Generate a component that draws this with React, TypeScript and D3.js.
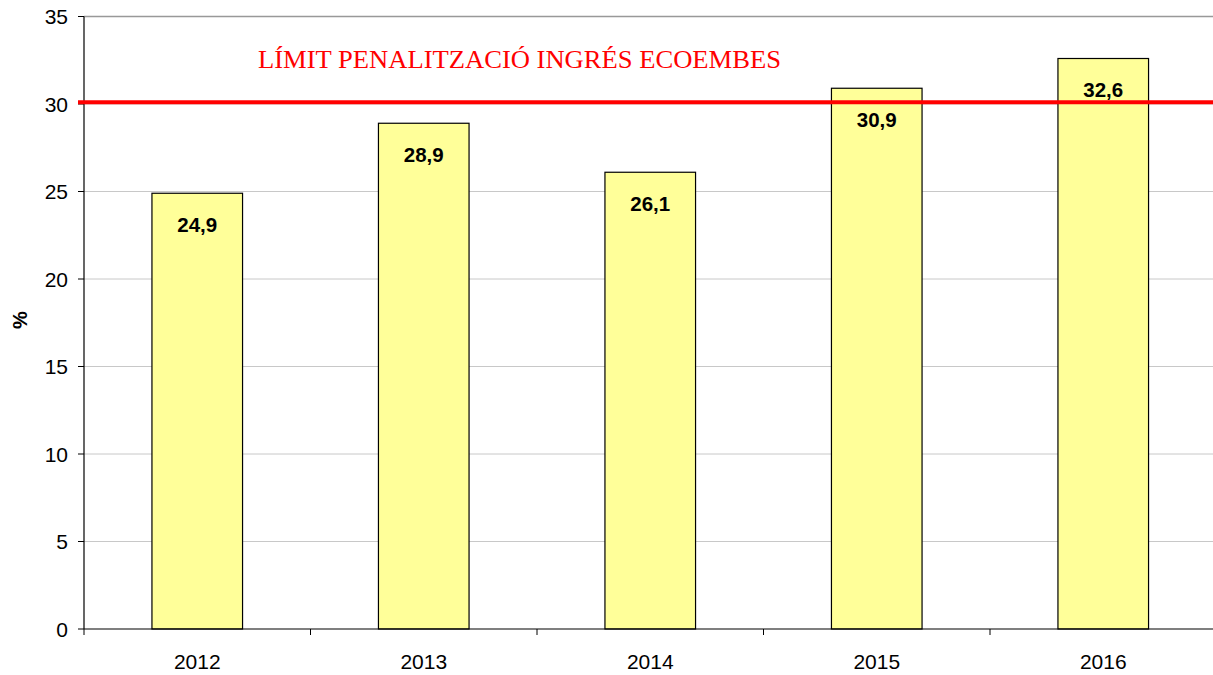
import React from "react";
import * as d3 from "d3";

const categories = ["2012", "2013", "2014", "2015", "2016"];
const values = [24.9, 28.9, 26.1, 30.9, 32.6];
const labels = ["24,9", "28,9", "26,1", "30,9", "32,6"];
const yTicks = [0, 5, 10, 15, 20, 25, 30, 35];
const limitValue = 30.1;
const limitLabel = "LÍMIT PENALITZACIÓ INGRÉS ECOEMBES";

export default function App() {
  const W = 1213, H = 675;
  const left = 84, right = 1216.5, top = 16.5, bottom = 629;
  const x = d3.scaleBand<string>().domain(categories).range([left, right]).paddingInner(0.6).paddingOuter(0.3);
  const xb = d3.scaleBand<string>().domain(categories).range([left, right]);
  const y = d3.scaleLinear().domain([0, 35]).range([bottom, top]);
  const font = "Arial, 'Liberation Sans', sans-serif";
  return (
    <svg width={W} height={H} style={{ position: "absolute", left: 0, top: 0, background: "#fff" }}>
      {yTicks.map(t => (
        <g key={t}>
          {t > 0 && (
            <line x1={left} x2={W} y1={y(t)} y2={y(t)} stroke={t === 35 ? "#999" : "#c8c8c8"} strokeWidth={t === 35 ? 1.5 : 1} />
          )}
          <line x1={left - 6} x2={left} y1={y(t)} y2={y(t)} stroke="#000" />
          <text x={68} y={y(t)} textAnchor="end" dominantBaseline="central" fontFamily={font} fontSize={21}>{t}</text>
        </g>
      ))}
      {categories.map((c, i) => {
        const bx = x(c)!;
        const bw = x.bandwidth();
        const by = y(values[i]);
        return (
          <g key={c}>
            <rect x={bx} y={by} width={bw} height={bottom - by} fill="#ffff99" stroke="#000" strokeWidth={1.2} />
            <text x={bx + bw / 2} y={by + 31} textAnchor="middle" dominantBaseline="central" fontFamily={font} fontSize={20.5} fontWeight="bold">{labels[i]}</text>
            <text x={xb(c)! + xb.bandwidth() / 2} y={661} textAnchor="middle" dominantBaseline="central" fontFamily={font} fontSize={21}>{c}</text>
          </g>
        );
      })}
      {categories.map((c, i) => (
        <line key={"t" + i} x1={xb(c)!} x2={xb(c)!} y1={bottom} y2={bottom + 6} stroke="#000" />
      ))}
      <line x1={left} x2={W} y1={bottom} y2={bottom} stroke="#000" strokeWidth={1.2} />
      <line x1={left} x2={left} y1={top} y2={bottom} stroke="#000" strokeWidth={1.2} />
      <line x1={left - 6} x2={W} y1={y(limitValue)} y2={y(limitValue)} stroke="#ff0000" strokeWidth={4} />
      <text x={258} y={59} dominantBaseline="central" fontFamily="'Times New Roman', 'Liberation Serif', serif" fontSize={25} textLength={523} lengthAdjust="spacingAndGlyphs" fill="#ff0000">{limitLabel}</text>
      <text transform={`translate(20,320) rotate(-90)`} textAnchor="middle" dominantBaseline="central" fontFamily={font} fontSize={20} fontWeight="bold">%</text>
    </svg>
  );
}
